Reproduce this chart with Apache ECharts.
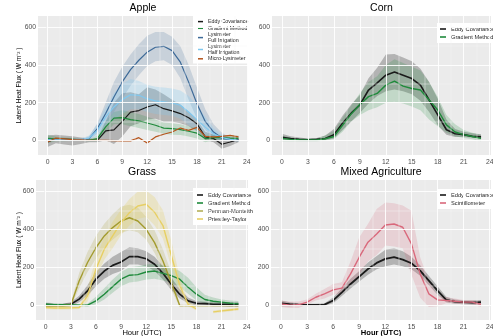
<!DOCTYPE html>
<html>
<head>
<meta charset="utf-8">
<script src="https://cdn.jsdelivr.net/npm/echarts@6/dist/echarts.min.js"></script>
<style>
  html, body { margin: 0; padding: 0; background: #ffffff; }
  #chart { width: 493px; height: 336px; }
</style>
</head>
<body>
<div id="chart"></div>
<script>
// ---- hours of the day (UTC) ----
const HOURS = [0, 1, 2, 3, 4, 5, 6, 7, 8, 9, 10, 11, 12, 13, 14, 15, 16, 17, 18, 19, 20, 21, 22, 23];

// ---- axis breaks ----
const X_TICKS = [0, 3, 6, 9, 12, 15, 18, 21, 24];
const X_MINOR = [1.5, 4.5, 7.5, 10.5, 13.5, 16.5, 19.5, 22.5];
const Y_TICKS = [0, 200, 400, 600];
const Y_MINOR = [100, 300, 500];

// ---- Apple (W m-2): mean diurnal cycle and spread ----
const appleEC      = [-8, 8, 6, 4, 2, 0, 0, 50, 55, 100, 150, 158, 177, 189, 168, 156, 142, 120, 88, 18, 9, -21, -9, 4];
const appleECUp    = [25, 30, 25, 22, 15, 10, 10, 100, 200, 250, 255, 245, 282, 270, 245, 215, 190, 150, 110, 45, 30, 10, 15, 20];
const appleECLo    = [-35, -15, -22, -28, -20, -10, -10, 0, -20, 20, 75, 90, 110, 115, 100, 100, 90, 75, 50, 0, -10, -45, -30, -10];
const appleGM      = [10, 8, 5, 5, 2, 0, 9, 71, 118, 120, 110, 103, 92, 80, 65, 62, 57, 48, 38, 9, 14, 15, 12, 10];
const appleGMUp    = [30, 20, 15, 12, 8, 5, 25, 100, 150, 160, 150, 140, 125, 110, 95, 90, 85, 75, 65, 30, 30, 28, 25, 25];
const appleGMLo    = [-15, -5, -5, -2, -4, -5, -5, 40, 85, 85, 75, 65, 55, 45, 35, 30, 28, 20, 10, -10, 0, 2, 0, -5];
const appleFull    = [3, 3, 3, 3, 3, 9, 62, 142, 230, 310, 375, 425, 468, 494, 499, 476, 415, 309, 194, 100, 44, 12, 5, 0];
const appleFullUp  = [8, 8, 8, 8, 10, 20, 90, 200, 310, 390, 455, 510, 555, 575, 575, 550, 500, 400, 280, 165, 85, 40, 15, 8];
const appleFullLo  = [-2, -2, -2, -2, -2, 0, 35, 90, 150, 220, 290, 345, 395, 420, 425, 400, 330, 215, 115, 55, 15, 0, -5, -8];
const appleHalf    = [3, 3, 3, 3, 3, 12, 53, 124, 177, 216, 242, 239, 221, 209, 204, 198, 186, 150, 110, 70, 35, 15, 5, 0];
const appleHalfUp  = [8, 8, 8, 8, 10, 25, 85, 175, 250, 300, 325, 315, 295, 285, 280, 275, 265, 235, 185, 125, 65, 30, 12, 8];
const appleHalfLo  = [-2, -2, -2, -2, -2, 2, 25, 70, 110, 140, 165, 165, 150, 140, 135, 130, 115, 80, 50, 25, 10, 2, -3, -5];
const appleMicro   = [-9, 12, 8, 4, 2, 0, 0, 0, -2, -3, -3, 14, -14, 18, 32, 44, 65, 53, 69, 21, 18, 21, 26, 18];

// ---- Corn ----
const cornEC   = [16, 10, 5, 3, 5, 10, 30, 91, 144, 188, 267, 305, 346, 363, 346, 328, 293, 214, 135, 56, 35, 30, 21, 18];
const cornECUp = [35, 22, 15, 10, 12, 25, 60, 130, 190, 240, 330, 385, 455, 458, 440, 420, 380, 310, 220, 110, 60, 45, 38, 32];
const cornECLo = [0, 0, -3, -3, -2, 0, 10, 55, 100, 145, 195, 235, 260, 270, 260, 245, 210, 150, 80, 30, 18, 18, 15, 10];
const cornGM   = [10, 5, 3, 2, 2, 8, 20, 80, 140, 190, 232, 249, 293, 314, 288, 275, 267, 214, 161, 82, 44, 30, 20, 10];
const cornGMUp = [25, 15, 10, 8, 10, 25, 50, 120, 185, 250, 310, 340, 400, 430, 410, 390, 370, 310, 230, 135, 85, 55, 40, 28];
const cornGMLo = [-5, -5, -5, -5, -5, -3, 5, 45, 100, 135, 160, 175, 200, 205, 195, 180, 160, 110, 75, 40, 22, 12, 5, -5];

// ---- Grass ----
const grassEC   = [3, 2, 2, 5, 32, 75, 137, 180, 210, 228, 256, 256, 245, 216, 168, 110, 58, 23, 10, 8, 5, 5, 5, 5];
const grassECUp = [12, 8, 8, 15, 50, 105, 175, 220, 255, 280, 305, 300, 285, 255, 205, 145, 85, 40, 22, 18, 15, 15, 15, 15];
const grassECLo = [-8, -5, -5, -5, 15, 50, 100, 140, 165, 180, 215, 215, 205, 180, 135, 80, 35, 10, -2, -2, -5, -5, -8, -8];
const grassGM   = [5, 3, 3, 2, 0, 0, 23, 58, 98, 137, 158, 161, 175, 180, 168, 156, 137, 95, 58, 30, 21, 16, 10, 7];
const grassGMUp = [15, 10, 8, 8, 6, 8, 45, 90, 135, 175, 200, 205, 215, 218, 210, 200, 180, 145, 95, 55, 40, 30, 25, 22];
const grassGMLo = [-5, -5, -3, -5, -6, -8, 5, 30, 65, 100, 120, 125, 135, 140, 130, 118, 95, 60, 25, 8, 5, 2, -2, -5];
const grassPM   = [-3, -3, -3, 0, 128, 225, 303, 365, 409, 444, 461, 444, 400, 330, 233, 119, -2, -2, -2, -2, -2, -2, -2, -2];
const grassPMUp = [5, 5, 5, 10, 170, 280, 365, 430, 480, 520, 530, 515, 465, 395, 295, 170, 4, 2, 2, 2, 2, 2, 2, 2];
const grassPMLo = [-10, -10, -10, -8, 90, 175, 245, 305, 345, 380, 395, 385, 345, 275, 180, 80, -8, -6, -6, -6, -6, -6, -6, -6];
const grassPT   = [-12, -15, -15, -14, -12, 49, 190, 295, 365, 435, 488, 523, 532, 490, 420, 262, 105, 5, -20, null, -35, -30, -25, -20];
const grassPTUp = [-5, -5, -5, -5, -5, 90, 250, 360, 440, 505, 560, 600, 605, 570, 500, 340, 150, 20, -10, null, -28, -22, -18, -12];
const grassPTLo = [-20, -22, -22, -22, -20, 20, 140, 240, 300, 370, 420, 455, 465, 420, 350, 200, 60, -5, -28, null, -42, -38, -32, -28];

// ---- Mixed Agriculture ----
const mixedEC   = [10, 5, 3, 2, 2, 3, 25, 68, 112, 151, 191, 223, 244, 253, 240, 221, 182, 130, 77, 28, 19, 16, 14, 16];
const mixedECUp = [25, 15, 10, 8, 8, 10, 40, 90, 140, 180, 225, 260, 292, 300, 285, 255, 210, 155, 100, 45, 30, 25, 25, 28];
const mixedECLo = [-5, -5, -3, -3, -3, -3, 10, 48, 88, 125, 160, 190, 205, 215, 205, 190, 155, 105, 55, 15, 8, 5, 3, 2];
const mixedSC   = [7, 0, 2, 16, 42, 60, 81, 90, 165, 253, 332, 375, 423, 428, 411, 323, 165, 60, 28, 25, 21, 16, 16, 4];
const mixedSCUp = [25, 20, 20, 30, 60, 85, 112, 121, 230, 358, 428, 507, 542, 537, 525, 498, 253, 130, 51, 42, 35, 28, 28, 20];
const mixedSCLo = [-10, -15, -15, 2, 25, 35, 55, 60, 110, 160, 230, 265, 315, 310, 300, 160, 40, -10, -5, 10, 8, 5, 5, -10];

// ---- styling ----
const FONT = '"Liberation Sans", Arial, Helvetica, sans-serif';
const PANEL_BG = '#EBEBEB';
const COL = {
  ec: '#1a1a1a', gm: '#1f8a3b', full: '#3d6a98', half: '#80c8ef', micro: '#b5541c',
  pm: '#a39b2e', pt: '#e7cf63', sc: '#d9687b'
};
const FILL = {
  ec: 'rgba(0,0,0,0.24)', gm: 'rgba(31,138,59,0.20)', full: 'rgba(61,106,152,0.20)',
  half: 'rgba(128,200,239,0.28)', pm: 'rgba(163,155,46,0.20)', pt: 'rgba(231,207,99,0.28)',
  sc: 'rgba(217,104,123,0.20)'
};

// panel boxes: [left, top, width, height]
const PANELS = [
  { title: 'Apple', box: [38, 16, 210, 139], yName: true, xName: false },
  { title: 'Corn', box: [272, 16, 219, 139], yName: false, xName: false },
  { title: 'Grass', box: [36, 180, 212, 140], yName: true, xName: true },
  { title: 'Mixed Agriculture', box: [271, 180, 220, 140], yName: false, xName: true, xBold: true }
];

function gridlines(i) {
  const major = { color: '#ffffff', width: 0.9, type: 'solid' };
  const minor = { color: '#f7f7f7', width: 0.45, type: 'solid' };
  const items = [];
  X_MINOR.forEach(v => items.push({ xAxis: v, lineStyle: minor }));
  Y_MINOR.forEach(v => items.push({ yAxis: v, lineStyle: minor }));
  X_TICKS.forEach(v => items.push({ xAxis: v, lineStyle: major }));
  Y_TICKS.forEach(v => items.push({ yAxis: v, lineStyle: major }));
  return {
    type: 'line', xAxisIndex: i, yAxisIndex: i, data: [], silent: true, z: 1,
    markLine: {
      symbol: ['none', 'none'], silent: true, animation: false,
      label: { show: false }, emphasis: { disabled: true },
      data: items
    }
  };
}

function band(i, upper, lower, fill) {
  return {
    type: 'custom', xAxisIndex: i, yAxisIndex: i, silent: true, z: 2, clip: true,
    data: [[HOURS[0], lower[0]]],
    renderItem(params, api) {
      const children = [];
      let seg = [];
      const flush = () => {
        if (seg.length > 1) {
          const top = seg.map(k => api.coord([HOURS[k], upper[k]]));
          const bot = seg.slice().reverse().map(k => api.coord([HOURS[k], lower[k]]));
          children.push({ type: 'polygon', shape: { points: top.concat(bot) }, style: { fill: fill } });
        }
        seg = [];
      };
      HOURS.forEach((h, k) => {
        if (upper[k] == null || lower[k] == null) flush(); else seg.push(k);
      });
      flush();
      return { type: 'group', children: children };
    }
  };
}

function line(i, name, values, color, width) {
  return {
    type: 'line', name: name, xAxisIndex: i, yAxisIndex: i, z: 3, color: color,
    symbol: 'none', showSymbol: false, silent: true, connectNulls: false,
    emphasis: { disabled: true },
    lineStyle: { color: color, width: width },
    data: HOURS.map((h, k) => [h, values[k] == null ? '-' : values[k]])
  };
}

const series = [];
PANELS.forEach((p, i) => series.push(gridlines(i)));

// Apple
series.push(band(0, appleECUp, appleECLo, FILL.ec));
series.push(band(0, appleGMUp, appleGMLo, FILL.gm));
series.push(band(0, appleFullUp, appleFullLo, FILL.full));
series.push(band(0, appleHalfUp, appleHalfLo, FILL.half));
series.push(line(0, 'Eddy Covariance', appleEC, COL.ec, 1.2));
series.push(line(0, 'Gradient Method', appleGM, COL.gm, 1.2));
series.push(line(0, 'Lysimeter\nFull Irrigation', appleFull, COL.full, 1.2));
series.push(line(0, 'Lysimeter\nHalf Irrigation', appleHalf, COL.half, 1.2));
series.push(line(0, 'Micro-Lysimeter', appleMicro, COL.micro, 1.2));

// Corn
series.push(band(1, cornECUp, cornECLo, FILL.ec));
series.push(band(1, cornGMUp, cornGMLo, FILL.gm));
series.push(line(1, 'Eddy Covariance', cornEC, COL.ec, 1.6));
series.push(line(1, 'Gradient Method', cornGM, COL.gm, 1.4));

// Grass
series.push(band(2, grassECUp, grassECLo, FILL.ec));
series.push(band(2, grassGMUp, grassGMLo, FILL.gm));
series.push(band(2, grassPMUp, grassPMLo, FILL.pm));
series.push(band(2, grassPTUp, grassPTLo, FILL.pt));
series.push(line(2, 'Eddy Covariance', grassEC, COL.ec, 1.7));
series.push(line(2, 'Gradient Method', grassGM, COL.gm, 1.4));
series.push(line(2, 'Penman-Monteith', grassPM, COL.pm, 1.4));
series.push(line(2, 'Priestley-Taylor', grassPT, COL.pt, 1.4));

// Mixed Agriculture
series.push(band(3, mixedECUp, mixedECLo, FILL.ec));
series.push(band(3, mixedSCUp, mixedSCLo, FILL.sc));
series.push(line(3, 'Eddy Covariance', mixedEC, COL.ec, 1.8));
series.push(line(3, 'Scintillometer', mixedSC, COL.sc, 1.4));

const labelStyle = { fontFamily: FONT, fontSize: 6.8, color: '#4d4d4d' };
const tickStyle = { color: '#333333', width: 0.6 };

const option = {
  animation: false,
  backgroundColor: '#ffffff',
  textStyle: { fontFamily: FONT },
  title: PANELS.map(p => ({
    text: p.title,
    left: p.box[0] + p.box[2] / 2,
    top: p.box[1] - 13,
    textAlign: 'center',
    padding: 0,
    textStyle: { fontFamily: FONT, fontSize: 10.5, fontWeight: 'normal', color: '#000000' }
  })),
  grid: PANELS.map(p => ({
    left: p.box[0], top: p.box[1], width: p.box[2], height: p.box[3],
    show: true, backgroundColor: PANEL_BG, borderWidth: 0,
    containLabel: false, outerBoundsMode: 'none'
  })),
  xAxis: PANELS.map((p, i) => ({
    type: 'value', gridIndex: i, min: -1.15, max: 24.15,
    axisLine: { show: false },
    splitLine: { show: false },
    axisTick: { show: true, customValues: X_TICKS, length: 1.6, lineStyle: tickStyle },
    axisLabel: Object.assign({ customValues: X_TICKS, margin: 3.5 }, labelStyle),
    name: p.xName ? 'Hour (UTC)' : '',
    nameLocation: 'middle', nameGap: 8.5, nameMoveOverlap: false,
    nameTextStyle: { fontFamily: FONT, fontSize: 7.6, color: '#000000', fontWeight: p.xBold ? 'bold' : 'normal' }
  })),
  yAxis: PANELS.map((p, i) => ({
    type: 'value', gridIndex: i, min: -78, max: 660,
    axisLine: { show: false },
    splitLine: { show: false },
    axisTick: { show: true, customValues: Y_TICKS, length: 1.6, lineStyle: tickStyle },
    axisLabel: Object.assign({ customValues: Y_TICKS, margin: 2 }, labelStyle),
    name: p.yName ? 'Latent Heat Flux ( W m\u207B\u00B2 )' : '',
    nameLocation: 'middle', nameRotate: 90, nameGap: i === 0 ? 15.5 : 13.5, nameMoveOverlap: false,
    nameTextStyle: { fontFamily: FONT, fontSize: 6.6, color: '#000000' }
  })),
  legend: [
    {
      data: ['Eddy Covariance', 'Gradient Method', 'Lysimeter\nFull Irrigation', 'Lysimeter\nHalf Irrigation', 'Micro-Lysimeter'],
      orient: 'vertical', left: 193, top: 16, padding: [3, 3, 2, 5], itemGap: 1.5,
      backgroundColor: '#ffffff', icon: 'rect', itemWidth: 5, itemHeight: 1.5,
      selectedMode: false,
      textStyle: { fontFamily: FONT, fontSize: 5.3, lineHeight: 5.2, color: '#222222' }
    },
    {
      data: ['Eddy Covariance', 'Gradient Method'],
      orient: 'vertical', left: 437, top: 23, padding: [3, 3, 3, 3], itemGap: 2,
      backgroundColor: '#ffffff', icon: 'rect', itemWidth: 6, itemHeight: 1.6,
      selectedMode: false,
      textStyle: { fontFamily: FONT, fontSize: 5.7, lineHeight: 6, color: '#222222' }
    },
    {
      data: ['Eddy Covariance', 'Gradient Method', 'Penman-Monteith', 'Priestley-Taylor'],
      orient: 'vertical', left: 193, top: 188, padding: [4, 3, 3, 4], itemGap: 2,
      backgroundColor: '#ffffff', icon: 'rect', itemWidth: 6, itemHeight: 1.6,
      selectedMode: false,
      textStyle: { fontFamily: FONT, fontSize: 5.7, lineHeight: 6, color: '#222222' }
    },
    {
      data: ['Eddy Covariance', 'Scintillometer'],
      orient: 'vertical', left: 437, top: 189, padding: [3, 3, 3, 3], itemGap: 2,
      backgroundColor: '#ffffff', icon: 'rect', itemWidth: 6, itemHeight: 1.6,
      selectedMode: false,
      textStyle: { fontFamily: FONT, fontSize: 5.7, lineHeight: 6, color: '#222222' }
    }
  ],
  series: series
};

const chart = echarts.init(document.getElementById('chart'), null, { renderer: 'canvas', width: 493, height: 336 });
chart.setOption(option);
</script>
</body>
</html>
